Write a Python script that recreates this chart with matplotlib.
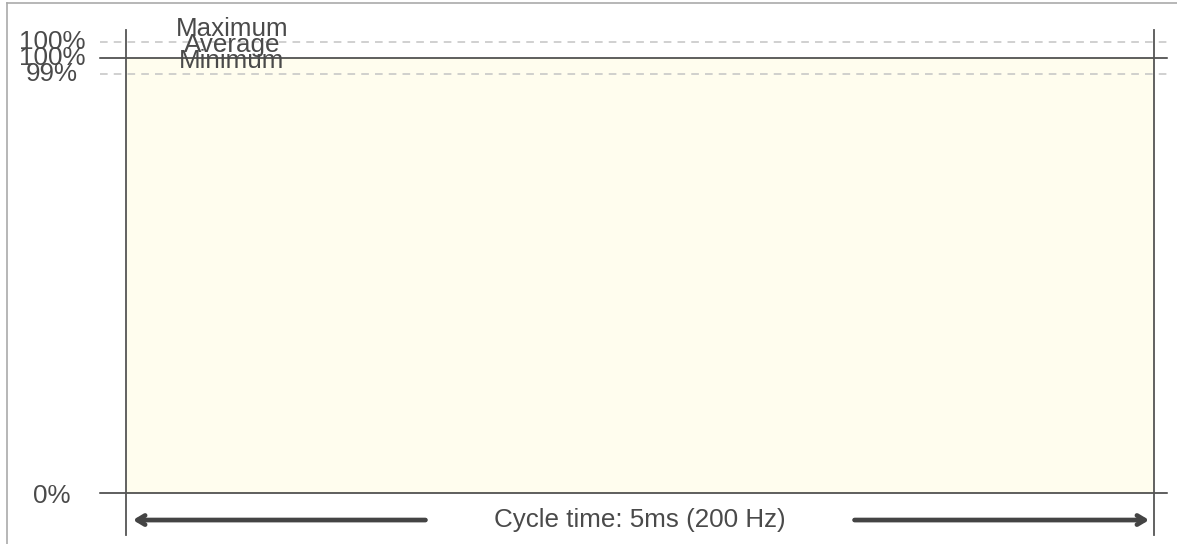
import matplotlib
matplotlib.use("Agg")
import matplotlib.pyplot as plt
import numpy as np

# ---- data ----
stat_names = ["Maximum", "Average", "Minimum"]
stat_values = [100.0, 99.7, 99.4]          # percent load
cycle_time_ms = 5
cycle_freq_hz = 200
time_points = [0, 5]                          # ms
avg_load = [99.7, 99.7]                       # percent
zero_label = "0%"

plt.rcParams['font.family'] = ['Liberation Sans', 'DejaVu Sans']

W, H = 1177, 544
fig = plt.figure(figsize=(W / 100, H / 100), dpi=100)
# axes: x from 126 to 1154 px, y: 0% at 493px, 100% at 57px (from top)
ax = fig.add_axes([126 / W, 1 - 493 / H, (1154 - 126) / W, (493 - 57) / H])
ax.set_xlim(0, cycle_time_ms)
ax.set_ylim(0, 100)
ax.axis('off')

# figure frame (left and top)
fig.add_artist(plt.Line2D([7 / W, 7 / W], [0, 1 - 3 / H], color='#aaaaaa', lw=1.2, transform=fig.transFigure))
fig.add_artist(plt.Line2D([7 / W, 1], [1 - 3 / H, 1 - 3 / H], color='#aaaaaa', lw=1.2, transform=fig.transFigure))

# filled average area
ax.fill_between(time_points, 0, avg_load, color='#fffdee', lw=0, zorder=1)

# layout: keep min separation between stat lines for legibility
gap = 3.7
avg_pos = np.mean(avg_load)
positions = {"Average": avg_pos,
             "Maximum": max(stat_values[0], avg_pos + gap),
             "Minimum": min(stat_values[2], avg_pos - gap)}

x_ext0, x_ext1 = -0.126, 5.064
for name, val in zip(stat_names, stat_values):
    y = positions[name]
    if name == "Average":
        ax.plot(time_points, avg_load, color='#333333', lw=1.1, zorder=3)
        ax.plot([x_ext0, 0], [y, y], color='#333333', lw=1.1, clip_on=False)
        ax.plot([cycle_time_ms, x_ext1], [y, y], color='#333333', lw=1.1, clip_on=False)
    else:
        ax.plot([x_ext0, x_ext1], [y, y], color='#c4c4c4', lw=1.1, ls=(0, (5, 4)), clip_on=False, zorder=2)
    ax.text(-0.36, y, f"{val:.0f}%", ha='center', va='center', fontsize=18.7, color='#4a4a4a', clip_on=False)
    ax.text(0.515, y + 0.3, name, ha='center', va='bottom', fontsize=18.7, color='#4a4a4a', clip_on=False)

# 0% baseline
ax.plot([x_ext0, x_ext1], [0, 0], color='#333333', lw=1.1, clip_on=False, zorder=3)
ax.text(-0.36, -0.8, zero_label, ha='center', va='center', fontsize=18.7, color='#4a4a4a', clip_on=False)

# vertical boundaries
for xv in [0, cycle_time_ms]:
    ax.plot([xv, xv], [-9.6, 106.2], color='#555555', lw=1.3, clip_on=False, zorder=4)

# cycle time arrows and label
ya = -6.2
ax.annotate("", xy=(0.02, ya), xytext=(1.47, ya), xycoords='data',
            arrowprops=dict(arrowstyle='->,head_length=0.55,head_width=0.33', color='#444444', lw=3.4),
            annotation_clip=False)
ax.annotate("", xy=(4.99, ya), xytext=(3.53, ya), xycoords='data',
            arrowprops=dict(arrowstyle='->,head_length=0.55,head_width=0.33', color='#444444', lw=3.4),
            annotation_clip=False)
ax.text(cycle_time_ms / 2, ya, f"Cycle time: {cycle_time_ms}ms ({cycle_freq_hz} Hz)",
        ha='center', va='center', fontsize=18.7, color='#4a4a4a', clip_on=False)

fig.savefig("out.png", dpi=100)
